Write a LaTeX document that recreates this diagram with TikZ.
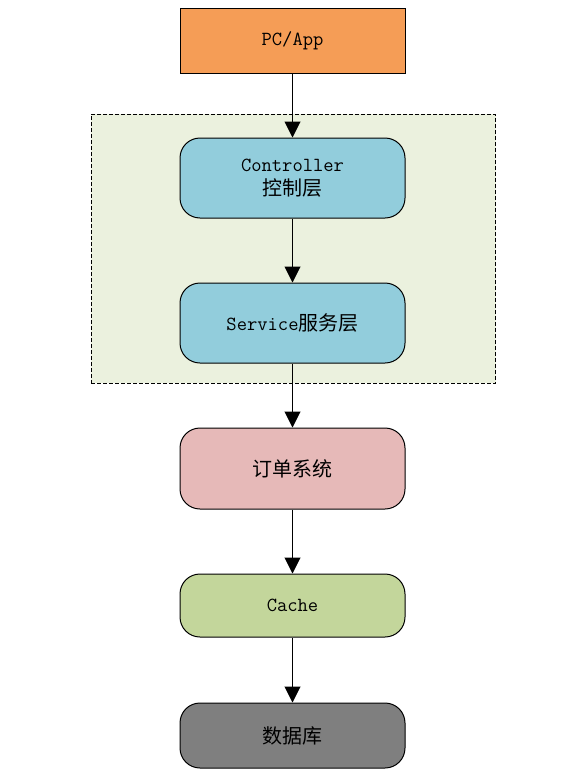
\documentclass[tikz,border=0pt]{standalone}
\usepackage{fontspec}
\newfontfamily\cjk{Noto Sans CJK SC}
\usetikzlibrary{arrows.meta}
\definecolor{cOrange}{HTML}{F59D56}
\definecolor{cGroup}{HTML}{EBF1DE}
\definecolor{cBlue}{HTML}{92CDDC}
\definecolor{cPink}{HTML}{E6B9B8}
\definecolor{cGreen}{HTML}{C3D69B}
\definecolor{cGray}{HTML}{7F7F7F}
\tikzset{
  box/.style={draw=black, line width=1pt, minimum width=225pt, align=center,
    font=\fontsize{20}{24}\selectfont\ttfamily, inner sep=0pt},
  rbox/.style={box, rounded corners=20pt},
  conn/.style={line width=1pt, -{Triangle[length=16pt,width=16pt]}},
}
\begin{document}
\begin{tikzpicture}[x=1pt,y=-1pt]
\useasboundingbox (0,0) rectangle (582,774);
\fill[white] (0,0) rectangle (582,774);
\node[draw=black, dash pattern=on 4pt off 2pt, line width=0.8pt, fill=cGroup,
  minimum width=404.5pt, minimum height=269pt, inner sep=0pt] (grp) at (293.3,248.5) {};
\node[box, fill=cOrange, minimum height=65pt] (pc) at (292.5,40.5) {PC/App};
\node[rbox, fill=cBlue, minimum height=80pt] (ctl) at (292.5,178) {Controller\\{\cjk 控制层}};
\node[rbox, fill=cBlue, minimum height=80pt] (svc) at (292.5,323) {Service{\cjk 服务层}};
\node[rbox, fill=cPink, minimum height=81pt] (ord) at (292.5,468.5) {{\cjk 订单系统}};
\node[rbox, fill=cGreen, minimum height=63pt] (cache) at (292.5,605.5) {Cache};
\node[rbox, fill=cGray, minimum height=65pt] (db) at (292.5,735.5) {{\cjk 数据库}};
\draw[conn] (pc) -- (ctl);
\draw[conn] (ctl) -- (svc);
\draw[conn] (svc) -- (ord);
\draw[conn] (ord) -- (cache);
\draw[conn] (cache) -- (db);
\end{tikzpicture}
\end{document}
